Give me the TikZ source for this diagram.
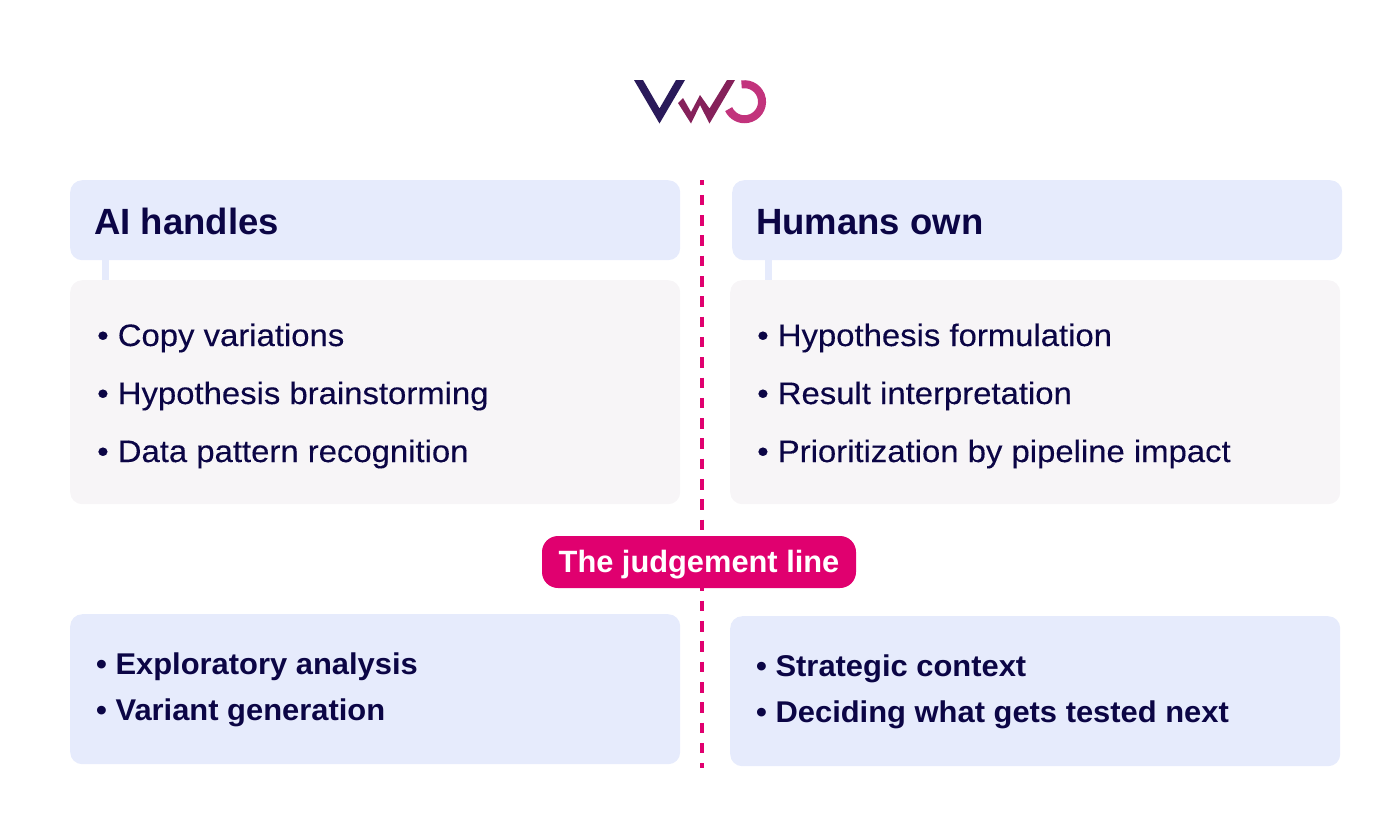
\documentclass[tikz,border=0pt]{standalone}
\usepackage{fontspec}
\setmainfont{Liberation Sans}
\newfontfamily\itemfont[FakeStretch=1.06,FakeBold=0.25]{Liberation Sans}
\newfontfamily\lowfont[FakeStretch=1.03]{Liberation Sans}
\definecolor{navy}{HTML}{0B0545}
\definecolor{headblue}{HTML}{E6EBFC}
\definecolor{softgray}{HTML}{F7F5F7}
\definecolor{pink}{HTML}{E0006F}
\definecolor{logodark}{HTML}{2A1A5A}
\definecolor{logomid}{HTML}{85215A}
\definecolor{logolight}{HTML}{C2337C}
\tikzset{
  panel/.style={anchor=north west,inner sep=0pt,rounded corners=12pt,minimum width=610pt},
  headbox/.style={panel,fill=headblue,minimum height=80pt},
  listbox/.style={panel,fill=softgray,minimum height=224pt},
  lowbox/.style={panel,fill=headblue,minimum height=150pt},
  headtext/.style={anchor=base west,inner sep=0pt,text=navy,font=\fontsize{36.5}{36.5}\selectfont\bfseries},
  itemtext/.style={anchor=base west,inner sep=0pt,text=navy,font=\itemfont\fontsize{31}{31}\selectfont},
  lowtext/.style={anchor=base west,inner sep=0pt,text=navy,font=\lowfont\fontsize{30}{30}\selectfont\bfseries},
  stemline/.style={line width=7pt,headblue},
  judgeline/.style={line width=4pt,pink,dash pattern=on 10.5pt off 9.8pt,dash phase=5.5pt}
}
\begin{document}
\begin{tikzpicture}[x=1pt,y=-1pt]
      \useasboundingbox (0,0) rectangle (1400,828);
      % logo
      \fill [logodark] (634,80) -- (643,80) -- (659.5,108.5) -- (676,80) -- (685,80) -- (659.5,123.5) -- cycle;
      \fill [logomid] (678,103) -- (683,98) -- (691,112) -- (700,95) -- (709.5,108.5) -- (727,80) -- (735,80) -- (709.5,123.5) -- (700,105) -- (691,123.5) -- cycle;
      \draw [logolight,line width=8pt] (741.5,84.5) arc (-100:155:17.5);
      % top and bottom of the judgement line
      \coordinate (linetop) at (702,180);
      \coordinate (linebottom) at (702,768);
      \draw [judgeline] (linetop) -- (linebottom);
      % boxes
      \node [headbox] (aihead) at (70,180) {};
      \node [headbox] (humanhead) at (732,180) {};
      \node [listbox] (ailist) at (70,280) {};
      \node [listbox] (humanlist) at (730,280) {};
      \node [lowbox] (ailow) at (70,614) {};
      \node [lowbox] (humanlow) at (730,616) {};
      % stems
      \draw [stemline] ([xshift=35.5pt]aihead.south west) -- ([xshift=35.5pt]ailist.north west);
      \draw [stemline] ([xshift=36.5pt]humanhead.south west) -- ([xshift=38.5pt]humanlist.north west);
      % pill
      \node [fill=pink,rounded corners=16pt,minimum width=314pt,minimum height=52pt,inner sep=0pt,text=white,text height=25.5pt,text depth=4.5pt,font=\fontsize{30.8}{30.8}\selectfont\bfseries] (judge) at (699,562) {The judgement line};
      % headings
      \node [headtext] (aititle) at (94,234) {AI handles};
      \node [headtext] (humantitle) at (756,234) {Humans own};
      % lists
      \node [itemtext] (a1) at (97,346) {• Copy variations};
      \node [itemtext] (a2) at (97,404) {• Hypothesis brainstorming};
      \node [itemtext] (a3) at (97,462) {• Data pattern recognition};
      \node [itemtext] (h1) at (757,346) {• Hypothesis formulation};
      \node [itemtext] (h2) at (757,404) {• Result interpretation};
      \node [itemtext] (h3) at (757,462) {• Prioritization by pipeline impact};
      \node [lowtext] (l1) at (96,674) {• Exploratory analysis};
      \node [lowtext] (l2) at (96,720) {• Variant generation};
      \node [lowtext] (r1) at (756,676) {• Strategic context};
      \node [lowtext] (r2) at (756,722) {• Deciding what gets tested next};
    \end{tikzpicture}
\end{document}
